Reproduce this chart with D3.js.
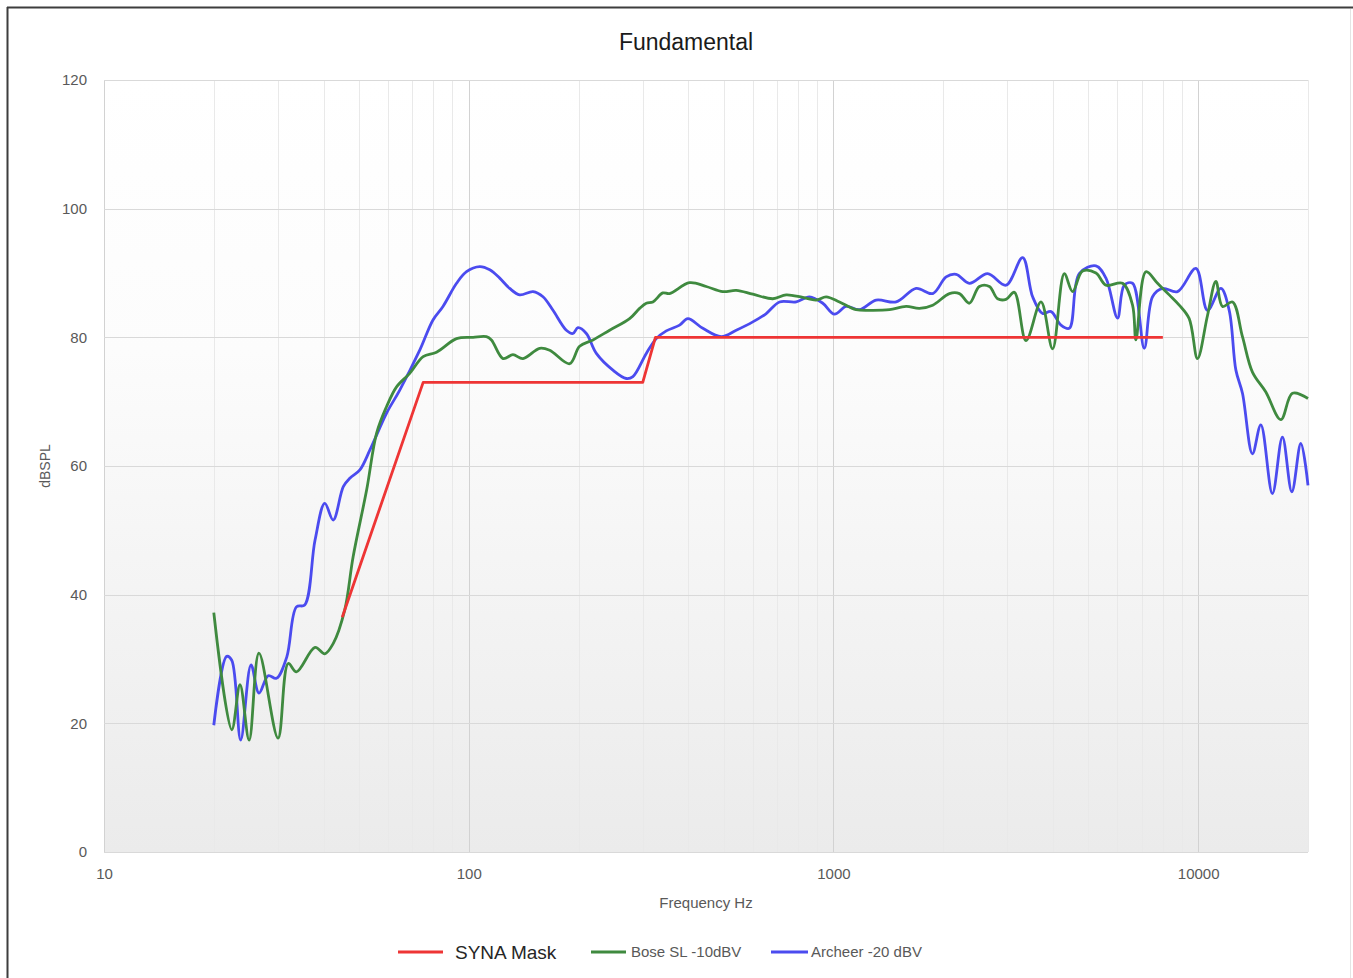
<!DOCTYPE html>
<html>
<head>
<meta charset="utf-8">
<script src="https://cdn.jsdelivr.net/npm/d3@7"></script>
<style>
    html, body { margin: 0; padding: 0; background: #fff; }
    svg { display: block; }
</style>
</head>
<body>
<svg width="1353" height="978"></svg>
<script>
(function() {
    'use strict';

    // SYNA mask (Hz / dBSPL)
    let maskFreq = [45, 75, 300, 325, 8000];
    let maskDb   = [36.5, 73, 73, 80, 80];

    // Bose SL -10dBV
    let boseFreq = [20, 22.4, 23.6, 25, 26.6, 30, 32, 33.7, 37.9, 40.3, 42.5, 45.7, 48.2, 52.5, 55.9, 59.5, 63.4,
        68.9, 75, 81.6, 92.6, 102.8, 111.8, 115.4, 124.2, 132.2, 140.8, 156.5, 166.7, 189.1, 201.4, 219.1, 243.4,
        276.1, 294.1, 306.8, 319.8, 340.6, 355.3, 403.1, 447.9, 497.4, 541.3, 601, 681.9, 742, 823.9, 896.6, 955,
        1038.6, 1154, 1281.5, 1423.9, 1582.1, 1720.6, 1871.3, 2079.3, 2214.7, 2358.8, 2511.9, 2675.5, 2818.8,
        2972.3, 3132.2, 3372.2, 3706.7, 3988.2, 4293.8, 4524.6, 4819.3, 5245, 5586, 6203, 6607, 6750, 7190, 7736,
        8329, 8871, 9447, 9956, 10605, 11181, 11657, 12417, 13224, 14083, 15325, 16847, 18129, 20000];
    let boseDb = [37.2, 19, 26, 17.4, 30.9, 17.7, 29.3, 28, 31.8, 30.8, 32.4, 37.6, 45.9, 56.3, 65.1, 69.2, 72.3,
        74.4, 77, 77.7, 79.8, 80, 80.1, 79.6, 76.7, 77.3, 76.7, 78.3, 78, 75.9, 78.6, 79.6, 81.1,
        82.9, 84.5, 85.3, 85.5, 86.9, 86.8, 88.5, 87.9, 87.1, 87.3, 86.7, 86, 86.6, 86.2, 85.8, 86.3,
        85.5, 84.3, 84.2, 84.3, 84.8, 84.5, 85, 86.8, 86.8, 85.3, 87.9, 87.9, 86,
        85.9, 87, 79.5, 85.5, 78.2, 89.9, 87.1, 90.3, 90, 88.1, 88.4, 85, 79.6, 90.2, 88.4,
        86.6, 85, 82.9, 76.7, 83.4, 88.7, 84.8, 85.5, 80.1, 74.6, 71.5, 67.2, 71.3, 70.5];

    // Archeer -20 dBV
    let archeerFreq = [20, 21.7, 22.4, 23.7, 25.3, 26.6, 28.2, 29.7, 31.7, 33.7, 35.5, 37.9, 40.3, 42.5, 45.3,
        47.2, 50.3, 53.6, 59.5, 64.7, 73.4, 79.8, 85, 92.6, 98.6, 107.2, 114.2, 121.6, 129.5, 137.9, 150.1,
        159.8, 170.2, 185.2, 193.1, 199.3, 210.1, 223.8, 248.5, 270.4, 281.9, 306.8, 326.7, 348, 378.5, 398.8,
        438.4, 492.4, 541.3, 601, 654.1, 711.3, 790.3, 859.5, 934.8, 1006.3, 1083.4, 1178.3, 1309.3, 1485.3,
        1685.2, 1871.3, 2036.4, 2169, 2358.8, 2647, 2972.3, 3300.6, 3515.5, 3744.3, 3948.1, 4205.3, 4431.4,
        4720, 5245, 5586, 6010, 6270, 6607, 7113, 7496, 7984, 8776, 9856, 10605, 11540, 12161, 12686, 13224,
        14083, 14849, 15975, 17018, 18060, 19115, 20000];
    let archeerDb = [19.7, 30.4, 29.8, 17.4, 29.1, 24.7, 27.4, 27, 30.3, 38.1, 38.4, 48.5, 54.2, 51.6, 56.8,
        58.1, 59.4, 62.5, 68.2, 71.8, 78, 82.7, 84.8, 88.4, 90.2, 91, 90.5, 89.2, 87.6, 86.6, 87.1,
        86.3, 84.2, 81.1, 80.6, 81.5, 80.6, 77.5, 74.9, 73.6, 73.9, 77.5, 79.8, 81, 81.9, 82.9,
        81.4, 80.1, 81.1, 82.4, 83.7, 85.5, 85.5, 86.3, 85.3, 83.6, 84.8, 84.3, 85.8, 85.5,
        87.6, 86.8, 89.4, 89.8, 88.4, 89.9, 88.1, 92.4, 86.3, 83.7, 84, 81.9, 81.4,
        89.9, 91.1, 89.2, 83, 88.1, 88.4, 78.3, 86.3, 87.6, 87.1, 90.7, 84.2, 87.6, 84.2, 74.9, 71.3,
        61.9, 66.4, 55.7, 64.5, 56, 63.5, 57];

    let xTicks = [10, 100, 1000, 10000];
    let yTicks = [0, 20, 40, 60, 80, 100, 120];

    let seriesNames = ['SYNA Mask', 'Bose SL -10dBV', 'Archeer -20 dBV'];
    let seriesColors = ['#ee3535', '#3f8a3f', '#4b4bef'];

    $ready();

    function $ready() {
        let svg = d3.select('svg');
        let leftMargin = 104, rightEdge = 1308, topMargin = 80, bottomEdge = 852;
        let font = '"Liberation Sans", Arial, sans-serif';

        // outer frame (dark top/left, faint right)
        svg.append('line').attr('x1', 7).attr('x2', 1353).attr('y1', 7.5).attr('y2', 7.5)
            .attr('stroke', '#3d3d3d').attr('stroke-width', 2);
        svg.append('line').attr('x1', 7.5).attr('x2', 7.5).attr('y1', 7).attr('y2', 978)
            .attr('stroke', '#3d3d3d').attr('stroke-width', 2);
        svg.append('line').attr('x1', 1350.5).attr('x2', 1350.5).attr('y1', 9).attr('y2', 978)
            .attr('stroke', '#e4e4e4').attr('stroke-width', 1);

        let xScale = d3.scaleLog().domain([10, 20000]).range([leftMargin, rightEdge]);
        let yScale = d3.scaleLinear().domain([0, 120]).range([bottomEdge, topMargin]);

        // plot background gradient
        let grad = svg.append('defs').append('linearGradient')
            .attr('id', 'plotBg').attr('x1', 0).attr('y1', 0).attr('x2', 0).attr('y2', 1);
        grad.append('stop').attr('offset', '0%').attr('stop-color', '#ffffff');
        grad.append('stop').attr('offset', '35%').attr('stop-color', '#fcfcfc');
        grad.append('stop').attr('offset', '100%').attr('stop-color', '#ebebeb');
        svg.append('rect')
            .attr('x', leftMargin).attr('y', topMargin)
            .attr('width', rightEdge - leftMargin).attr('height', bottomEdge - topMargin)
            .attr('fill', 'url(#plotBg)');

        // minor vertical grid
        let minorTicks = xScale.ticks().filter(function(t) { return xTicks.indexOf(t) < 0; });
        svg.append('g').selectAll('line').data(minorTicks).enter().append('line')
            .attr('x1', function(d) { return Math.round(xScale(d)) + 0.5; })
            .attr('x2', function(d) { return Math.round(xScale(d)) + 0.5; })
            .attr('y1', topMargin).attr('y2', bottomEdge)
            .attr('stroke', '#e9e9e9').attr('stroke-width', 1);

        // major vertical grid
        svg.append('g').selectAll('line').data(xTicks).enter().append('line')
            .attr('x1', function(d) { return Math.round(xScale(d)) + 0.5; })
            .attr('x2', function(d) { return Math.round(xScale(d)) + 0.5; })
            .attr('y1', topMargin).attr('y2', bottomEdge)
            .attr('stroke', '#d2d2d2').attr('stroke-width', 1);

        // horizontal grid
        svg.append('g').selectAll('line').data(yTicks).enter().append('line')
            .attr('x1', leftMargin).attr('x2', rightEdge)
            .attr('y1', function(d) { return Math.round(yScale(d)) + 0.5; })
            .attr('y2', function(d) { return Math.round(yScale(d)) + 0.5; })
            .attr('stroke', '#d9d9d9').attr('stroke-width', 1);

        // axes (labels only, like the original)
        let yAxis = d3.axisLeft(yScale).tickValues(yTicks).tickSize(0).tickPadding(17);
        let yG = svg.append('g').attr('transform', `translate(${leftMargin},0)`).call(yAxis);
        yG.select('.domain').remove();
        yG.selectAll('text').attr('fill', '#595959').style('font', '15px ' + font);

        let xAxis = d3.axisBottom(xScale).tickValues(xTicks).tickFormat(d3.format('d')).tickSize(0).tickPadding(16);
        let xG = svg.append('g').attr('transform', `translate(0,${bottomEdge})`).call(xAxis);
        xG.select('.domain').remove();
        xG.selectAll('text').attr('fill', '#595959').style('font', '15px ' + font);

        // title and axis titles
        svg.append('text')
            .attr('x', 686).attr('y', 50)
            .attr('text-anchor', 'middle')
            .attr('fill', '#1a1a1a')
            .style('font', '23px ' + font)
            .text('Fundamental');

        svg.append('text')
            .attr('text-anchor', 'middle')
            .attr('transform', `translate(50,${(topMargin + bottomEdge) / 2})rotate(-90)`)
            .attr('fill', '#595959')
            .style('font', '14px ' + font)
            .text('dBSPL');

        svg.append('text')
            .attr('x', (leftMargin + rightEdge) / 2).attr('y', 908)
            .attr('text-anchor', 'middle')
            .attr('fill', '#595959')
            .style('font', '15px ' + font)
            .text('Frequency Hz');

        // curves
        function drawPath(freqs, dbs, color, curve) {
            let pts = freqs.map(function(f, i) { return [f, dbs[i]]; });
            let line = d3.line()
                .x(function(d) { return xScale(d[0]); })
                .y(function(d) { return yScale(d[1]); })
                .curve(curve);
            svg.append('path')
                .attr('d', line(pts))
                .attr('stroke', color)
                .attr('stroke-width', 2.8)
                .attr('stroke-linejoin', 'round')
                .attr('fill', 'none');
        }
        drawPath(archeerFreq, archeerDb, seriesColors[2], d3.curveCatmullRom.alpha(0.5));
        drawPath(boseFreq, boseDb, seriesColors[1], d3.curveCatmullRom.alpha(0.5));
        drawPath(maskFreq, maskDb, seriesColors[0], d3.curveLinear);

        // legend
        let legend = [
            {x1: 398, x2: 443, tx: 455, size: 19, fill: '#262626'},
            {x1: 591, x2: 626, tx: 631, size: 15, fill: '#595959'},
            {x1: 771, x2: 808, tx: 811, size: 15, fill: '#595959'}
        ];
        legend.forEach(function(l, i) {
            svg.append('line')
                .attr('x1', l.x1).attr('x2', l.x2).attr('y1', 952).attr('y2', 952)
                .attr('stroke', seriesColors[i]).attr('stroke-width', 3);
            svg.append('text')
                .attr('x', l.tx).attr('y', 952).attr('dy', '0.35em')
                .attr('fill', l.fill)
                .style('font', l.size + 'px ' + font)
                .text(seriesNames[i]);
        });
    }
})();
</script>
</body>
</html>
